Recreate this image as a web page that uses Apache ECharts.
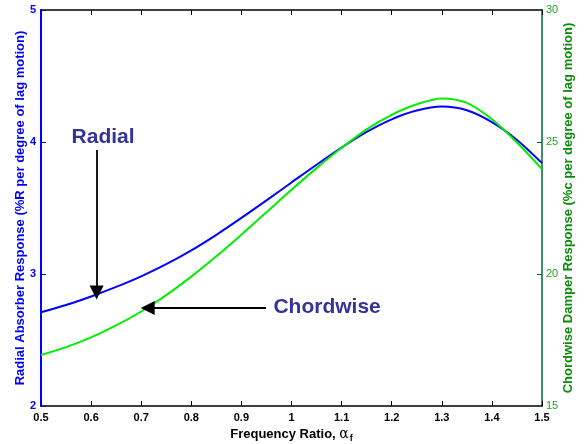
<!DOCTYPE html>
<html>
<head>
<meta charset="utf-8">
<script src="https://cdn.jsdelivr.net/npm/echarts@6/dist/echarts.min.js"></script>
<style>html,body{margin:0;padding:0;background:#fff;}#c{width:587px;height:444px;}</style>
</head>
<body>
<div id="c"></div>
<script>
const freq = [0.5,0.55,0.6,0.65,0.7,0.75,0.8,0.85,0.9,0.95,1.0,1.05,1.1,1.15,1.2,1.25,1.3,1.35,1.4,1.45,1.5];
const radial = [2.71,2.765,2.83,2.902,2.982,3.074,3.179,3.297,3.425,3.558,3.693,3.828,3.958,4.076,4.172,4.238,4.268,4.24,4.15,4.015,3.84];
const chordwise = [16.93,17.23,17.60,18.05,18.58,19.20,19.90,20.67,21.49,22.34,23.19,24.01,24.78,25.48,26.03,26.43,26.65,26.48,25.86,24.98,23.97];
const radialArrow = [[0.611,3.94],[0.611,2.86]];
const chordArrow = [[0.949,2.742],[0.713,2.742]];
const radialLabel = [0.624,4.04];
const chordLabel = [1.071,2.75];

const FONT = '"Liberation Sans", Arial, sans-serif';
const chart = echarts.init(document.getElementById('c'), null, {renderer:'canvas'});
const pair = (xs, ys) => xs.map((x,i)=>[x, ys[i]]);

chart.setOption({
  animation:false,
  backgroundColor:'#fff',
  textStyle:{fontFamily:FONT},
  grid:{left:41, right:45, top:10, bottom:38, containLabel:false, outerBoundsMode:'none'},
  xAxis:[{
    type:'value', min:0.5, max:1.5, interval:0.1,
    position:'bottom',
    axisLine:{show:true, onZero:false, lineStyle:{color:'#000', width:1.5}},
    axisTick:{show:true, inside:true, length:5, lineStyle:{color:'#000', width:1}},
    axisLabel:{color:'#000', fontWeight:'bold', fontSize:11, fontFamily:FONT, margin:6,
      formatter:v=>(Math.round(v*10)/10).toString()},
    splitLine:{show:false},
    name:'Frequency Ratio, {g|α}{s|f}', nameLocation:'middle', nameGap:19, nameMoveOverlap:false,
    nameTextStyle:{color:'#000', fontWeight:'bold', fontSize:13, fontFamily:FONT, lineHeight:18,
      rich:{g:{fontSize:14, fontWeight:'normal', fontFamily:'"DejaVu Serif", serif', color:'#000', lineHeight:18, verticalAlign:'middle'},
            s:{fontSize:9, fontWeight:'bold', color:'#000', lineHeight:18, verticalAlign:'bottom', padding:[0,0,0,1]}}}
  },{
    type:'value', min:0.5, max:1.5, interval:0.1, position:'top',
    axisLine:{show:true, onZero:false, lineStyle:{color:'#000', width:1.5}},
    axisTick:{show:true, inside:true, length:5, lineStyle:{color:'#000', width:1}},
    axisLabel:{show:false}, splitLine:{show:false}
  }],
  yAxis:[{
    type:'value', min:2, max:5, interval:1, position:'left',
    axisLine:{show:true, onZero:false, lineStyle:{color:'#0000ff', width:2}},
    axisTick:{show:true, inside:true, length:5, lineStyle:{color:'#0000ff', width:1}},
    axisLabel:{color:'#0000ff', fontWeight:'bold', fontSize:11, fontFamily:FONT, margin:5},
    splitLine:{show:false},
    name:'Radial Absorber Response (%R per degree of lag motion)', nameLocation:'middle', nameGap:14, nameRotate:90, nameMoveOverlap:false,
    nameTextStyle:{color:'#0000ff', fontWeight:'bold', fontSize:13, fontFamily:FONT}
  },{
    type:'value', min:15, max:30, interval:5, position:'right',
    axisLine:{show:true, onZero:false, lineStyle:{color:'#006633', width:1.5}},
    axisTick:{show:true, inside:true, length:5, lineStyle:{color:'#006633', width:1}},
    axisLabel:{color:'#22a322', fontSize:11, fontFamily:FONT, margin:4},
    splitLine:{show:false},
    name:'Chordwise Damper Response (%c per degree of lag motion)', nameLocation:'middle', nameGap:20, nameRotate:90, nameMoveOverlap:false,
    nameTextStyle:{color:'#0a8c0a', fontWeight:'bold', fontSize:13, fontFamily:FONT}
  }],
  series:[{
    type:'line', name:'Radial', xAxisIndex:0, yAxisIndex:0, data:pair(freq, radial),
    smooth:0.3, showSymbol:false, lineStyle:{color:'#0000ff', width:2},
    markLine:{silent:true, symbol:['none','triangle'], symbolSize:14,
      lineStyle:{color:'#000', width:1.8, type:'solid'}, itemStyle:{color:'#000'}, label:{show:false},
      data:[[{coord:radialArrow[0]},{coord:radialArrow[1]}],[{coord:chordArrow[0]},{coord:chordArrow[1]}]]}
  },{
    type:'line', name:'Chordwise', xAxisIndex:0, yAxisIndex:1, data:pair(freq, chordwise),
    smooth:0.3, showSymbol:false, lineStyle:{color:'#00ee00', width:2}
  }]
});

function placeLabels(){
  const p1 = chart.convertToPixel({xAxisIndex:0, yAxisIndex:0}, radialLabel);
  const p2 = chart.convertToPixel({xAxisIndex:0, yAxisIndex:0}, chordLabel);
  chart.setOption({graphic:[
    {type:'text', x:p1[0], y:p1[1], style:{text:'Radial', fill:'#333399', font:'bold 21px '+FONT, align:'center', verticalAlign:'middle'}},
    {type:'text', x:p2[0], y:p2[1], style:{text:'Chordwise', fill:'#333399', font:'bold 21px '+FONT, align:'center', verticalAlign:'middle'}}
  ]});
}
placeLabels();
</script>
</body>
</html>
